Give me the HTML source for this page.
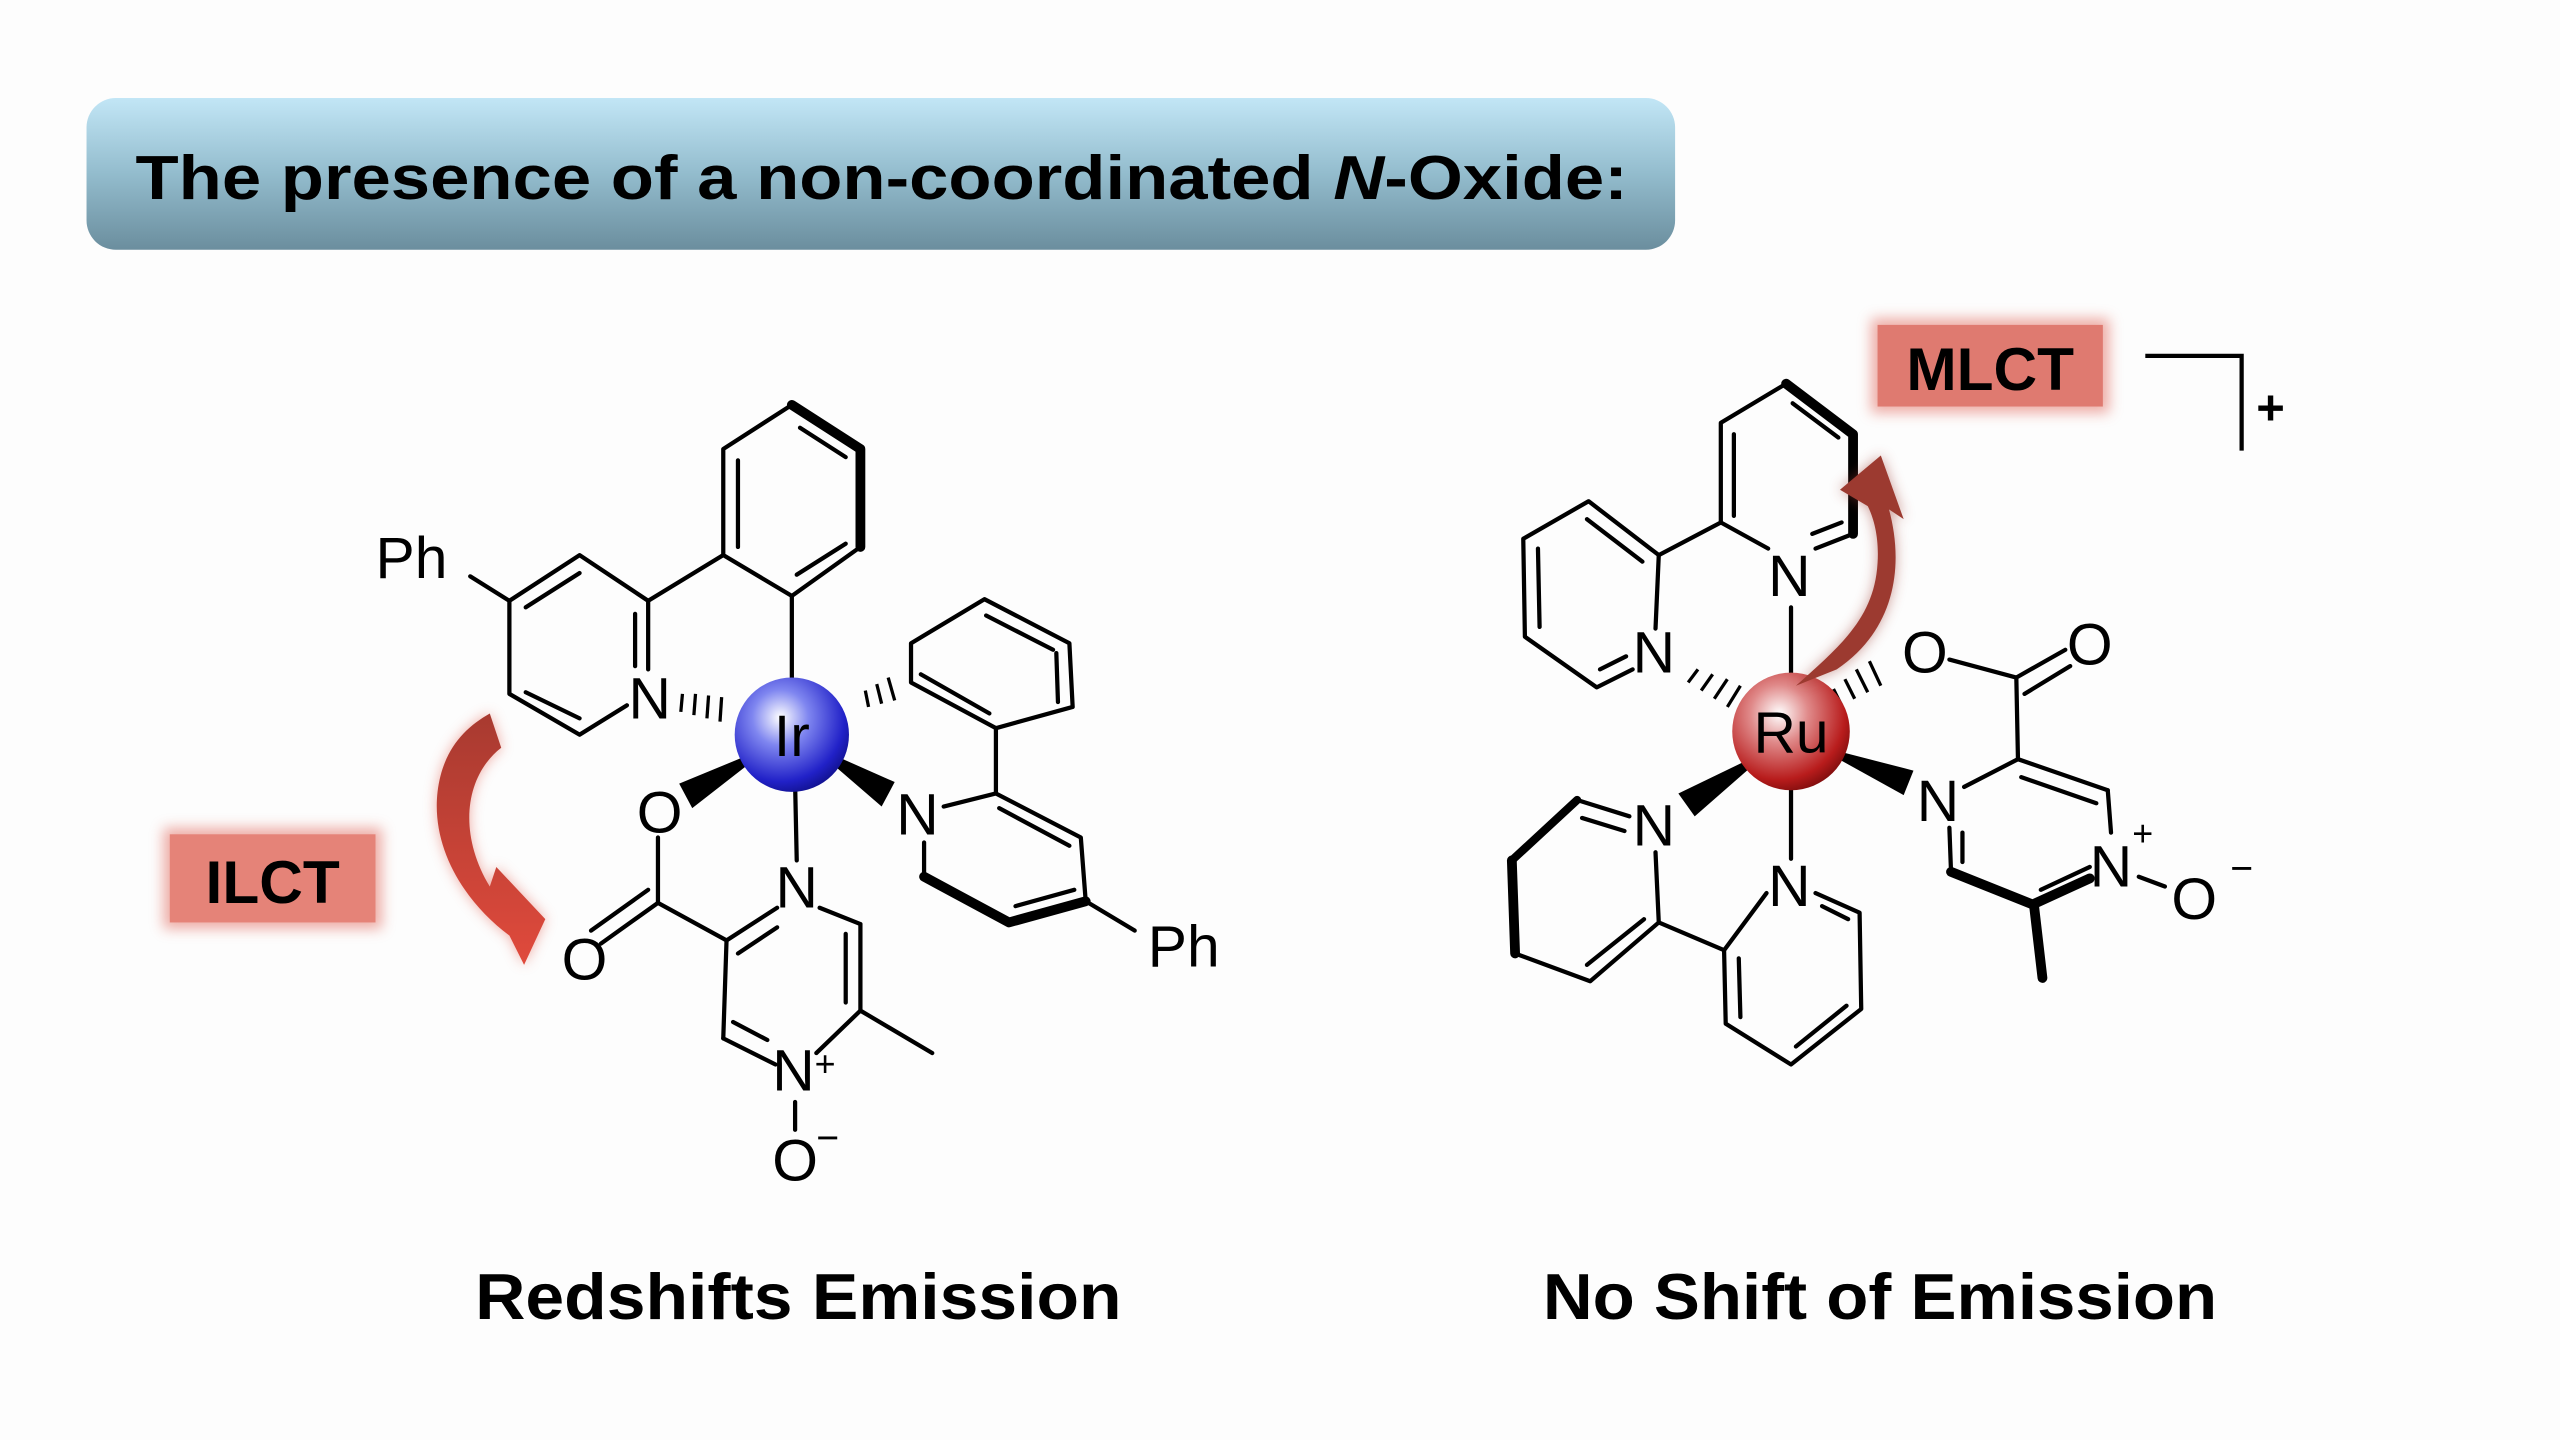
<!DOCTYPE html>
<html><head><meta charset="utf-8"><style>
html,body{margin:0;padding:0;background:#fdfdfd;}
svg{display:block}
text{font-family:"Liberation Sans",sans-serif;}
</style></head><body>
<svg width="2560" height="1440" viewBox="0 0 1568 882" xmlns="http://www.w3.org/2000/svg">
<defs>
<linearGradient id="tg" x1="0" y1="0" x2="0" y2="1">
<stop offset="0" stop-color="#c2e6f6"/><stop offset="0.5" stop-color="#93bccd"/><stop offset="1" stop-color="#6b8e9e"/>
</linearGradient>
<radialGradient id="ir" cx="0.4" cy="0.35" r="0.7">
<stop offset="0" stop-color="#ffffff"/><stop offset="0.35" stop-color="#7f86f0"/><stop offset="0.8" stop-color="#2121c8"/><stop offset="1" stop-color="#10108a"/>
</radialGradient>
<radialGradient id="ru" cx="0.4" cy="0.35" r="0.7">
<stop offset="0" stop-color="#ffffff"/><stop offset="0.35" stop-color="#e08a8a"/><stop offset="0.8" stop-color="#b81c1c"/><stop offset="1" stop-color="#7a0c0c"/>
</radialGradient>
<filter id="glow" x="-30%" y="-30%" width="160%" height="160%"><feGaussianBlur stdDeviation="4"/></filter>
<linearGradient id="ag" x1="0" y1="0" x2="0" y2="1"><stop offset="0" stop-color="#a83a30"/><stop offset="1" stop-color="#e04a3c"/></linearGradient>
</defs>
<rect width="1568" height="882" fill="#fdfdfd"/>
<rect x="53" y="60" width="973" height="93" rx="18" fill="url(#tg)"/>
<text x="83" y="122" font-size="38" font-weight="bold" fill="#000" textLength="914" lengthAdjust="spacingAndGlyphs">The presence of a non-coordinated <tspan font-style="italic">N</tspan>-Oxide:</text>
<text x="291" y="808" font-size="40" font-weight="bold" textLength="396" lengthAdjust="spacingAndGlyphs">Redshifts Emission</text>
<text x="945" y="808" font-size="40" font-weight="bold" textLength="413" lengthAdjust="spacingAndGlyphs">No Shift of Emission</text>

<rect x="100" y="507" width="134" height="62" fill="#e3776c" opacity="0.6" filter="url(#glow)"/>
<rect x="104" y="511" width="126" height="54" fill="#e58378"/>
<text x="167" y="553" font-size="37" font-weight="bold" text-anchor="middle">ILCT</text>
<g>
<path d="M300,437 L307,458 C285,475 280,510 300,543 L304,531 L334,563 L321,591 L312,573 C285,553 264,520 268,485 C271,460 284,446 300,437 Z" fill="#e05a4c" opacity="0.5" filter="url(#glow)"/>
<path d="M300,437 L307,458 C285,475 280,510 300,543 L304,531 L334,563 L321,591 L312,573 C285,553 264,520 268,485 C271,460 284,446 300,437 Z" fill="url(#ag)"/>
</g>

<g stroke="#000" stroke-width="2.6" fill="none" stroke-linecap="round" stroke-linejoin="round">
<polyline points="485,365 443,340 443,275 485,248"/>
<polyline points="527,335 485,365"/>
<polyline points="485,248 527,275 527,335" stroke-width="6"/>
<line x1="452" y1="282" x2="452" y2="335"/>
<line x1="490" y1="262" x2="518" y2="280"/>
<line x1="518" y1="333" x2="488" y2="352"/>
<line x1="443" y1="340" x2="397" y2="368"/>
<polyline points="397,368 355,340 312,368 312,425 355,450 384,432"/>
<line x1="397" y1="368" x2="397" y2="410"/>
<line x1="389" y1="376" x2="389" y2="408"/>
<line x1="355" y1="351" x2="322" y2="372"/>
<line x1="322" y1="424" x2="355" y2="440"/>
<line x1="312" y1="368" x2="288" y2="353"/>
<line x1="485" y1="365" x2="485" y2="420"/>
<polygon points="558,394 603,367 655,394 657,433 610,446 558,418"/>
<line x1="604" y1="377" x2="645" y2="398"/>
<line x1="647" y1="400" x2="648" y2="430"/>
<line x1="564" y1="413" x2="606" y2="437"/>
<line x1="610" y1="446" x2="610" y2="486"/>
<polyline points="578,494 610,486 662,513 665,552"/>
<line x1="612" y1="495" x2="655" y2="518"/>
<polyline points="665,552 618,565 566,537" stroke-width="6"/>
<line x1="622" y1="555" x2="658" y2="545"/>
<line x1="566" y1="537" x2="566" y2="516"/>
<line x1="665" y1="552" x2="695" y2="570"/>
<line x1="487" y1="480" x2="488" y2="527"/>
<line x1="403" y1="513" x2="403" y2="553"/>
<line x1="403" y1="553" x2="445" y2="576"/>
<line x1="403" y1="553" x2="368" y2="578"/>
<line x1="397" y1="545" x2="362" y2="570"/>
<line x1="445" y1="576" x2="476" y2="556"/>
<line x1="452" y1="584" x2="476" y2="568"/>
<line x1="502" y1="556" x2="527" y2="566"/>
<line x1="527" y1="566" x2="527" y2="619"/>
<line x1="518" y1="572" x2="518" y2="614"/>
<line x1="527" y1="619" x2="500" y2="645"/>
<line x1="527" y1="619" x2="571" y2="645"/>
<line x1="445" y1="576" x2="443" y2="636"/>
<line x1="443" y1="636" x2="475" y2="652"/>
<line x1="449" y1="626" x2="470" y2="637"/>
<line x1="487" y1="675" x2="487" y2="692"/>
</g>
<g stroke="#000" stroke-width="2">
<line x1="418" y1="425" x2="417" y2="436"/><line x1="426" y1="425" x2="425" y2="438"/><line x1="434" y1="426" x2="433" y2="440"/><line x1="442" y1="427" x2="441" y2="442"/>
<line x1="532" y1="433" x2="530" y2="423"/><line x1="540" y1="431" x2="537" y2="419"/><line x1="548" y1="429" x2="544" y2="415"/>
</g>
<polygon points="474,456 416,480 424,495" fill="#000"/>
<polygon points="496,456 548,479 540,494" fill="#000"/>
<circle cx="485" cy="450" r="35" fill="url(#ir)"/>
<text x="485" y="463" font-size="36" text-anchor="middle">Ir</text>
<g font-size="36">
<text x="230" y="354">Ph</text>
<text x="385" y="440">N</text>
<text x="390" y="510">O</text>
<text x="549" y="511">N</text>
<text x="703" y="592">Ph</text>
<text x="344" y="600">O</text>
<text x="475" y="556">N</text>
<text x="473" y="668">N</text>
<text x="473" y="723">O</text>
</g>
<text x="499" y="659" font-size="22">+</text>
<text x="500" y="705" font-size="24">−</text>

<rect x="1146" y="195" width="146" height="58" fill="#e3776c" opacity="0.6" filter="url(#glow)"/>
<rect x="1150" y="199" width="138" height="50" fill="#df7a70"/>
<text x="1219" y="239" font-size="37" font-weight="bold" text-anchor="middle">MLCT</text>
<polyline points="1314,218 1373,218 1373,276" stroke="#000" stroke-width="2.6" fill="none"/>
<text x="1382" y="260" font-size="30" font-weight="bold">+</text>

<g stroke="#000" stroke-width="2.6" fill="none" stroke-linecap="round" stroke-linejoin="round">
<polyline points="1083,336 1054,320 1054,259 1094,235"/>
<polyline points="1094,235 1135,266 1135,327" stroke-width="6"/>
<line x1="1062" y1="266" x2="1062" y2="316"/>
<line x1="1098" y1="247" x2="1126" y2="268"/>
<line x1="1135" y1="327" x2="1112" y2="336"/>
<line x1="1128" y1="320" x2="1110" y2="327"/>
<line x1="1054" y1="320" x2="1016" y2="340"/>
<polyline points="1016,340 973,307 933,330 934,390 978,421 1000,410"/>
<line x1="1016" y1="340" x2="1014" y2="385"/>
<line x1="972" y1="318" x2="1006" y2="344"/>
<line x1="942" y1="336" x2="943" y2="384"/>
<line x1="980" y1="410" x2="996" y2="402"/>
<line x1="1097" y1="372" x2="1097" y2="526"/>
<line x1="1194" y1="404" x2="1235" y2="415"/>
<line x1="1235" y1="415" x2="1265" y2="398"/>
<line x1="1240" y1="425" x2="1268" y2="408"/>
<line x1="1235" y1="415" x2="1236" y2="465"/>
<line x1="1236" y1="465" x2="1203" y2="482"/>
<line x1="1236" y1="465" x2="1291" y2="484"/>
<line x1="1238" y1="476" x2="1284" y2="492"/>
<line x1="1291" y1="484" x2="1293" y2="510"/>
<line x1="1194" y1="507" x2="1195" y2="534"/>
<line x1="1202" y1="510" x2="1202" y2="528"/>
<polyline points="1195,534 1245,554 1280,538" stroke-width="6"/>
<line x1="1250" y1="545" x2="1280" y2="531"/>
<line x1="1246" y1="556" x2="1251" y2="599" stroke-width="6"/>
<line x1="1310" y1="537" x2="1326" y2="543"/>
<polyline points="998,500 966,490 926,527 928,584 974,601 1016,565 1014,522"/>
<line x1="926" y1="527" x2="928" y2="584" stroke-width="6"/>
<line x1="966" y1="490" x2="926" y2="527" stroke-width="5"/>
<line x1="969" y1="501" x2="995" y2="509"/>
<line x1="1007" y1="563" x2="972" y2="591"/>
<line x1="1016" y1="565" x2="1056" y2="582"/>
<polyline points="1082,547 1056,582 1057,627 1097,652 1140,618 1139,559 1112,547"/>
<line x1="1065" y1="587" x2="1066" y2="623"/>
<line x1="1100" y1="641" x2="1131" y2="616"/>
<line x1="1116" y1="555" x2="1132" y2="563"/>
</g>
<g stroke="#000" stroke-width="2">
<line x1="1034" y1="418" x2="1040" y2="410"/><line x1="1042" y1="423" x2="1049" y2="413"/><line x1="1050" y1="428" x2="1058" y2="416"/><line x1="1058" y1="433" x2="1066" y2="420"/>
<line x1="1128" y1="432" x2="1123" y2="422"/><line x1="1136" y1="428" x2="1130" y2="416"/><line x1="1144" y1="424" x2="1137" y2="410"/><line x1="1152" y1="420" x2="1145" y2="405"/>
</g>
<polygon points="1086,458 1028,486 1038,500" fill="#000"/>
<polygon points="1110,456 1172,472 1166,487" fill="#000"/>
<circle cx="1097" cy="448" r="36" fill="url(#ru)"/>
<text x="1097" y="461" font-size="36" text-anchor="middle">Ru</text>
<path d="M1100,420 C1128,395 1148,378 1150,345 C1151,330 1148,318 1144,310 L1127,300 L1152,279 L1166,318 L1157,312 C1166,345 1162,385 1125,410 Z" fill="#9c3a30" opacity="0.5" filter="url(#glow)"/>
<path d="M1100,420 C1128,395 1148,378 1150,345 C1151,330 1148,318 1144,310 L1127,300 L1152,279 L1166,318 L1157,312 C1166,345 1162,385 1125,410 Z" fill="#9c3a30"/>
<g font-size="36">
<text x="1083" y="365">N</text>
<text x="1000" y="412">N</text>
<text x="1165" y="412">O</text>
<text x="1266" y="407">O</text>
<text x="1174" y="503">N</text>
<text x="1280" y="543">N</text>
<text x="1330" y="563">O</text>
<text x="1000" y="518">N</text>
<text x="1083" y="555">N</text>
</g>
<text x="1306" y="518" font-size="22">+</text>
<text x="1366" y="540" font-size="24">−</text>
</svg>
</body></html>
